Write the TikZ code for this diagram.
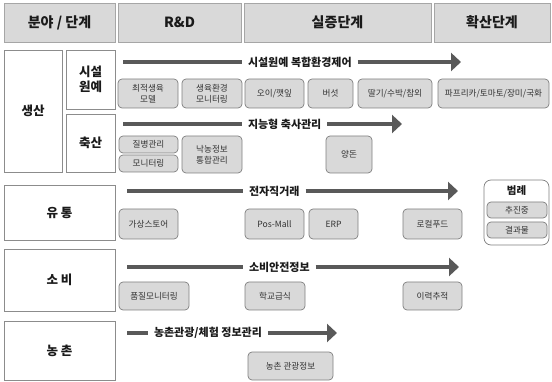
\documentclass[tikz,border=0pt]{standalone}
\usepackage{fontspec}
\setmainfont{Noto Sans CJK KR}
\usetikzlibrary{arrows.meta}
\definecolor{hdrfill}{HTML}{D9D9D9}
\definecolor{hdrline}{HTML}{A6A6A6}
\definecolor{rowline}{HTML}{8C8C8C}
\definecolor{itemfill}{HTML}{D9D9D9}
\definecolor{itemline}{HTML}{7F7F7F}
\definecolor{barcol}{HTML}{595959}
\definecolor{txtdark}{HTML}{1A1A1A}
\definecolor{txtitem}{HTML}{333333}
\newcommand\pbox[7]{%
  \node[#6, minimum width={(#4-#2)*1pt}, minimum height={(#5-#3)*1pt}]
    (#1) at ({(#2+#4)/2},{(#3+#5)/2}) {#7};}
\tikzset{
  hdr/.style={draw=hdrline, fill=hdrfill, line width=0.8pt, inner sep=0pt, outer sep=0pt,
    font=\fontsize{14}{16}\selectfont\bfseries, text=txtdark},
  rowbox/.style={draw=rowline, fill=white, line width=0.8pt, inner sep=0pt, outer sep=0pt,
    font=\fontsize{12.5}{15}\selectfont\bfseries, text=txtdark, align=center},
  item/.style={draw=itemline, fill=itemfill, line width=0.7pt, rounded corners=4pt,
    inner sep=0pt, outer sep=0pt, font=\fontsize{8.6}{10.8}\selectfont, text=txtitem, align=center},
  legendbox/.style={draw=itemline, fill=white, line width=0.7pt, rounded corners=7pt,
    inner sep=0pt, outer sep=0pt},
  arrlbl/.style={inner xsep=6pt, inner ysep=0pt, outer sep=0pt,
    font=\fontsize{11}{13}\selectfont\bfseries, text=txtdark},
  bar/.style={draw=barcol, line width=4.5pt},
  bararrow/.style={bar, -{Triangle[length=10pt,width=18pt]}}
}
\begin{document}
\begin{tikzpicture}[x=1pt,y=-1pt]
\useasboundingbox (0,0) rectangle (552,382);
% header
\pbox{h1}{4}{3}{115}{42}{hdr}{분야 / 단계}
\pbox{h2}{118}{3}{241}{42}{hdr}{R\&D}
\pbox{h3}{244}{3}{431}{42}{hdr}{실증단계}
\pbox{h4}{434}{3}{550}{42}{hdr}{확산단계}
% row labels
\pbox{r1}{4}{50}{62}{172}{rowbox}{생산}
\pbox{r1a}{66}{50}{115}{109}{rowbox}{시설\\원예}
\pbox{r1b}{66}{114}{115}{172}{rowbox}{축산}
\pbox{r2}{4}{185}{115}{240}{rowbox}{유 통}
\pbox{r3}{4}{249}{115}{311}{rowbox}{소 비}
\pbox{r4}{4}{321}{115}{380}{rowbox}{농 촌}
% items: 시설원예
\pbox{i11}{118}{79}{178}{108}{item}{최적생육\\모델}
\pbox{i12}{182}{79}{242}{108}{item}{생육환경\\모니터링}
\pbox{i13}{245}{79}{304}{108}{item}{오이/깻잎}
\pbox{i14}{308}{79}{353}{108}{item}{버섯}
\pbox{i15}{358}{79}{432}{108}{item}{딸기/수박/참외}
\pbox{i16}{438}{79}{549}{108}{item}{파프리카/토마토/장미/국화}
% items: 축산
\pbox{i21}{119}{136}{178}{153}{item}{질병관리}
\pbox{i22}{119}{155}{178}{172}{item}{모니터링}
\pbox{i23}{182}{136}{242}{173}{item}{낙농정보\\통합관리}
\pbox{i24}{326}{136}{372}{173}{item}{양돈}
% items: 유통
\pbox{i31}{119}{209}{178}{239}{item}{가상스토어}
\pbox{i32}{245}{209}{304}{239}{item}{Pos-Mall}
\pbox{i33}{309}{209}{358}{239}{item}{ERP}
\pbox{i34}{403}{209}{462}{239}{item}{로컬푸드}
% items: 소비
\pbox{i41}{119}{282}{189}{310}{item}{품질모니터링}
\pbox{i42}{245}{282}{305}{310}{item}{학교급식}
\pbox{i43}{403}{282}{462}{310}{item}{이력추적}
% items: 농촌
\pbox{i51}{248}{352}{333}{380}{item}{농촌 관광정보}
% legend
\pbox{lg}{484}{180}{549}{245}{legendbox}{}
\node[font=\fontsize{10.5}{12}\selectfont\bfseries, text=txtdark, inner sep=0pt] (lgt) at (516.5,191) {범례};
\pbox{lg1}{487}{202}{547}{218}{item}{추진중}
\pbox{lg2}{487}{222}{547}{238}{item}{결과물}
% arrows
\coordinate (a1s) at (123,62);
\node[arrlbl, anchor=west] (a1t) at (242,62) {시설원예 복합환경제어};
\coordinate (a1e) at (461,62);
\draw[bar] (a1s) -- (a1t);
\draw[bararrow] (a1t) -- (a1e);
\coordinate (a2s) at (123,124);
\node[arrlbl, anchor=west] (a2t) at (242,124) {지능형 축사관리};
\coordinate (a2e) at (402,124);
\draw[bar] (a2s) -- (a2t);
\draw[bararrow] (a2t) -- (a2e);
\coordinate (a3s) at (127,191);
\node[arrlbl, anchor=west] (a3t) at (243,191) {전자직거래};
\coordinate (a3e) at (458,191);
\draw[bar] (a3s) -- (a3t);
\draw[bararrow] (a3t) -- (a3e);
\coordinate (a4s) at (127,267);
\node[arrlbl, anchor=west] (a4t) at (243,267) {소비안전정보};
\coordinate (a4e) at (459,267);
\draw[bar] (a4s) -- (a4t);
\draw[bararrow] (a4t) -- (a4e);
\coordinate (a5s) at (127,333);
\node[arrlbl, anchor=west] (a5t) at (148,333) {농촌관광/체험 정보관리};
\coordinate (a5e) at (337,333);
\draw[bar] (a5s) -- (a5t);
\draw[bararrow] (a5t) -- (a5e);
\end{tikzpicture}
\end{document}
